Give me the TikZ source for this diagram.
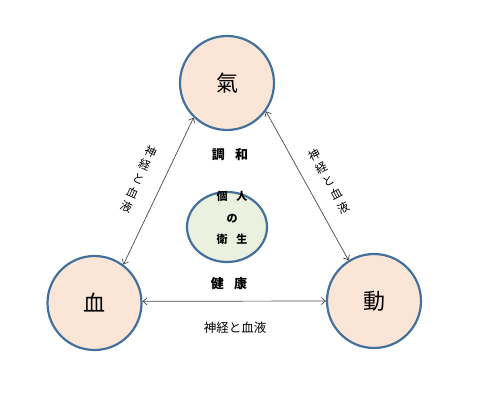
\documentclass[tikz,border=0pt]{standalone}
\usepackage{fontspec}
\newfontfamily\cjk{Noto Sans CJK JP}
\usetikzlibrary{shapes.geometric,arrows.meta}
\definecolor{peach}{HTML}{FBE5D6}
\definecolor{sage}{HTML}{EBF1DE}
\definecolor{rim}{HTML}{41719C}
\definecolor{wire}{HTML}{4A4A4A}
\tikzset{>={Straight Barb[length=4pt,width=7pt]}}

\begin{document}
\begin{tikzpicture}[
    x=1pt, y=-1pt,
    element/.style={circle, draw=rim, line width=2.2pt, fill=peach, minimum size=94pt,
        font=\cjk\fontsize{22}{24}\selectfont},
    core/.style={ellipse, draw=rim, line width=2.2pt, fill=sage, minimum width=80pt, minimum height=70pt},
    word/.style={font=\cjk\bfseries\fontsize{13}{15}\selectfont},
    small/.style={font=\cjk\bfseries\fontsize{11}{21.5}\selectfont, align=center},
    path/.style={font=\cjk\fontsize{11.5}{15}\selectfont, align=center},
    link/.style={<->, draw=wire, line width=0.7pt}
]
\useasboundingbox (0,0) rectangle (500,404);

\node[element] (qi) at (227,83) {氣};
\node[element] (xue) at (94.5,303) {血};
\node[element] (dong) at (374,301) {動};
\node[core] (self) at (227,227) {};
\node[small] (kojin) at (232,218) {個\hspace{0.8em}人\\の\\衛\hspace{0.8em}生};

\node[word] (chowa) at (230,155) {調\hspace{0.8em}和};
\node[word] (kenko) at (229,284) {健\hspace{0.8em}康};

\draw[link] (qi.226) -- (xue.53);
\draw[link] (qi.-36) -- (dong.122);
\draw[link] (xue.2) -- (dong.180);

\node[path, rotate=-24] (left) at (138.5,179) {神\\経\\と\\血\\液};
\node[path, rotate=28] (right) at (329,181) {神\\経\\と\\血\\液};
\node[font=\cjk\fontsize{12.5}{14}\selectfont] (bottom) at (235,328) {神経と血液};
\end{tikzpicture}
\end{document}
